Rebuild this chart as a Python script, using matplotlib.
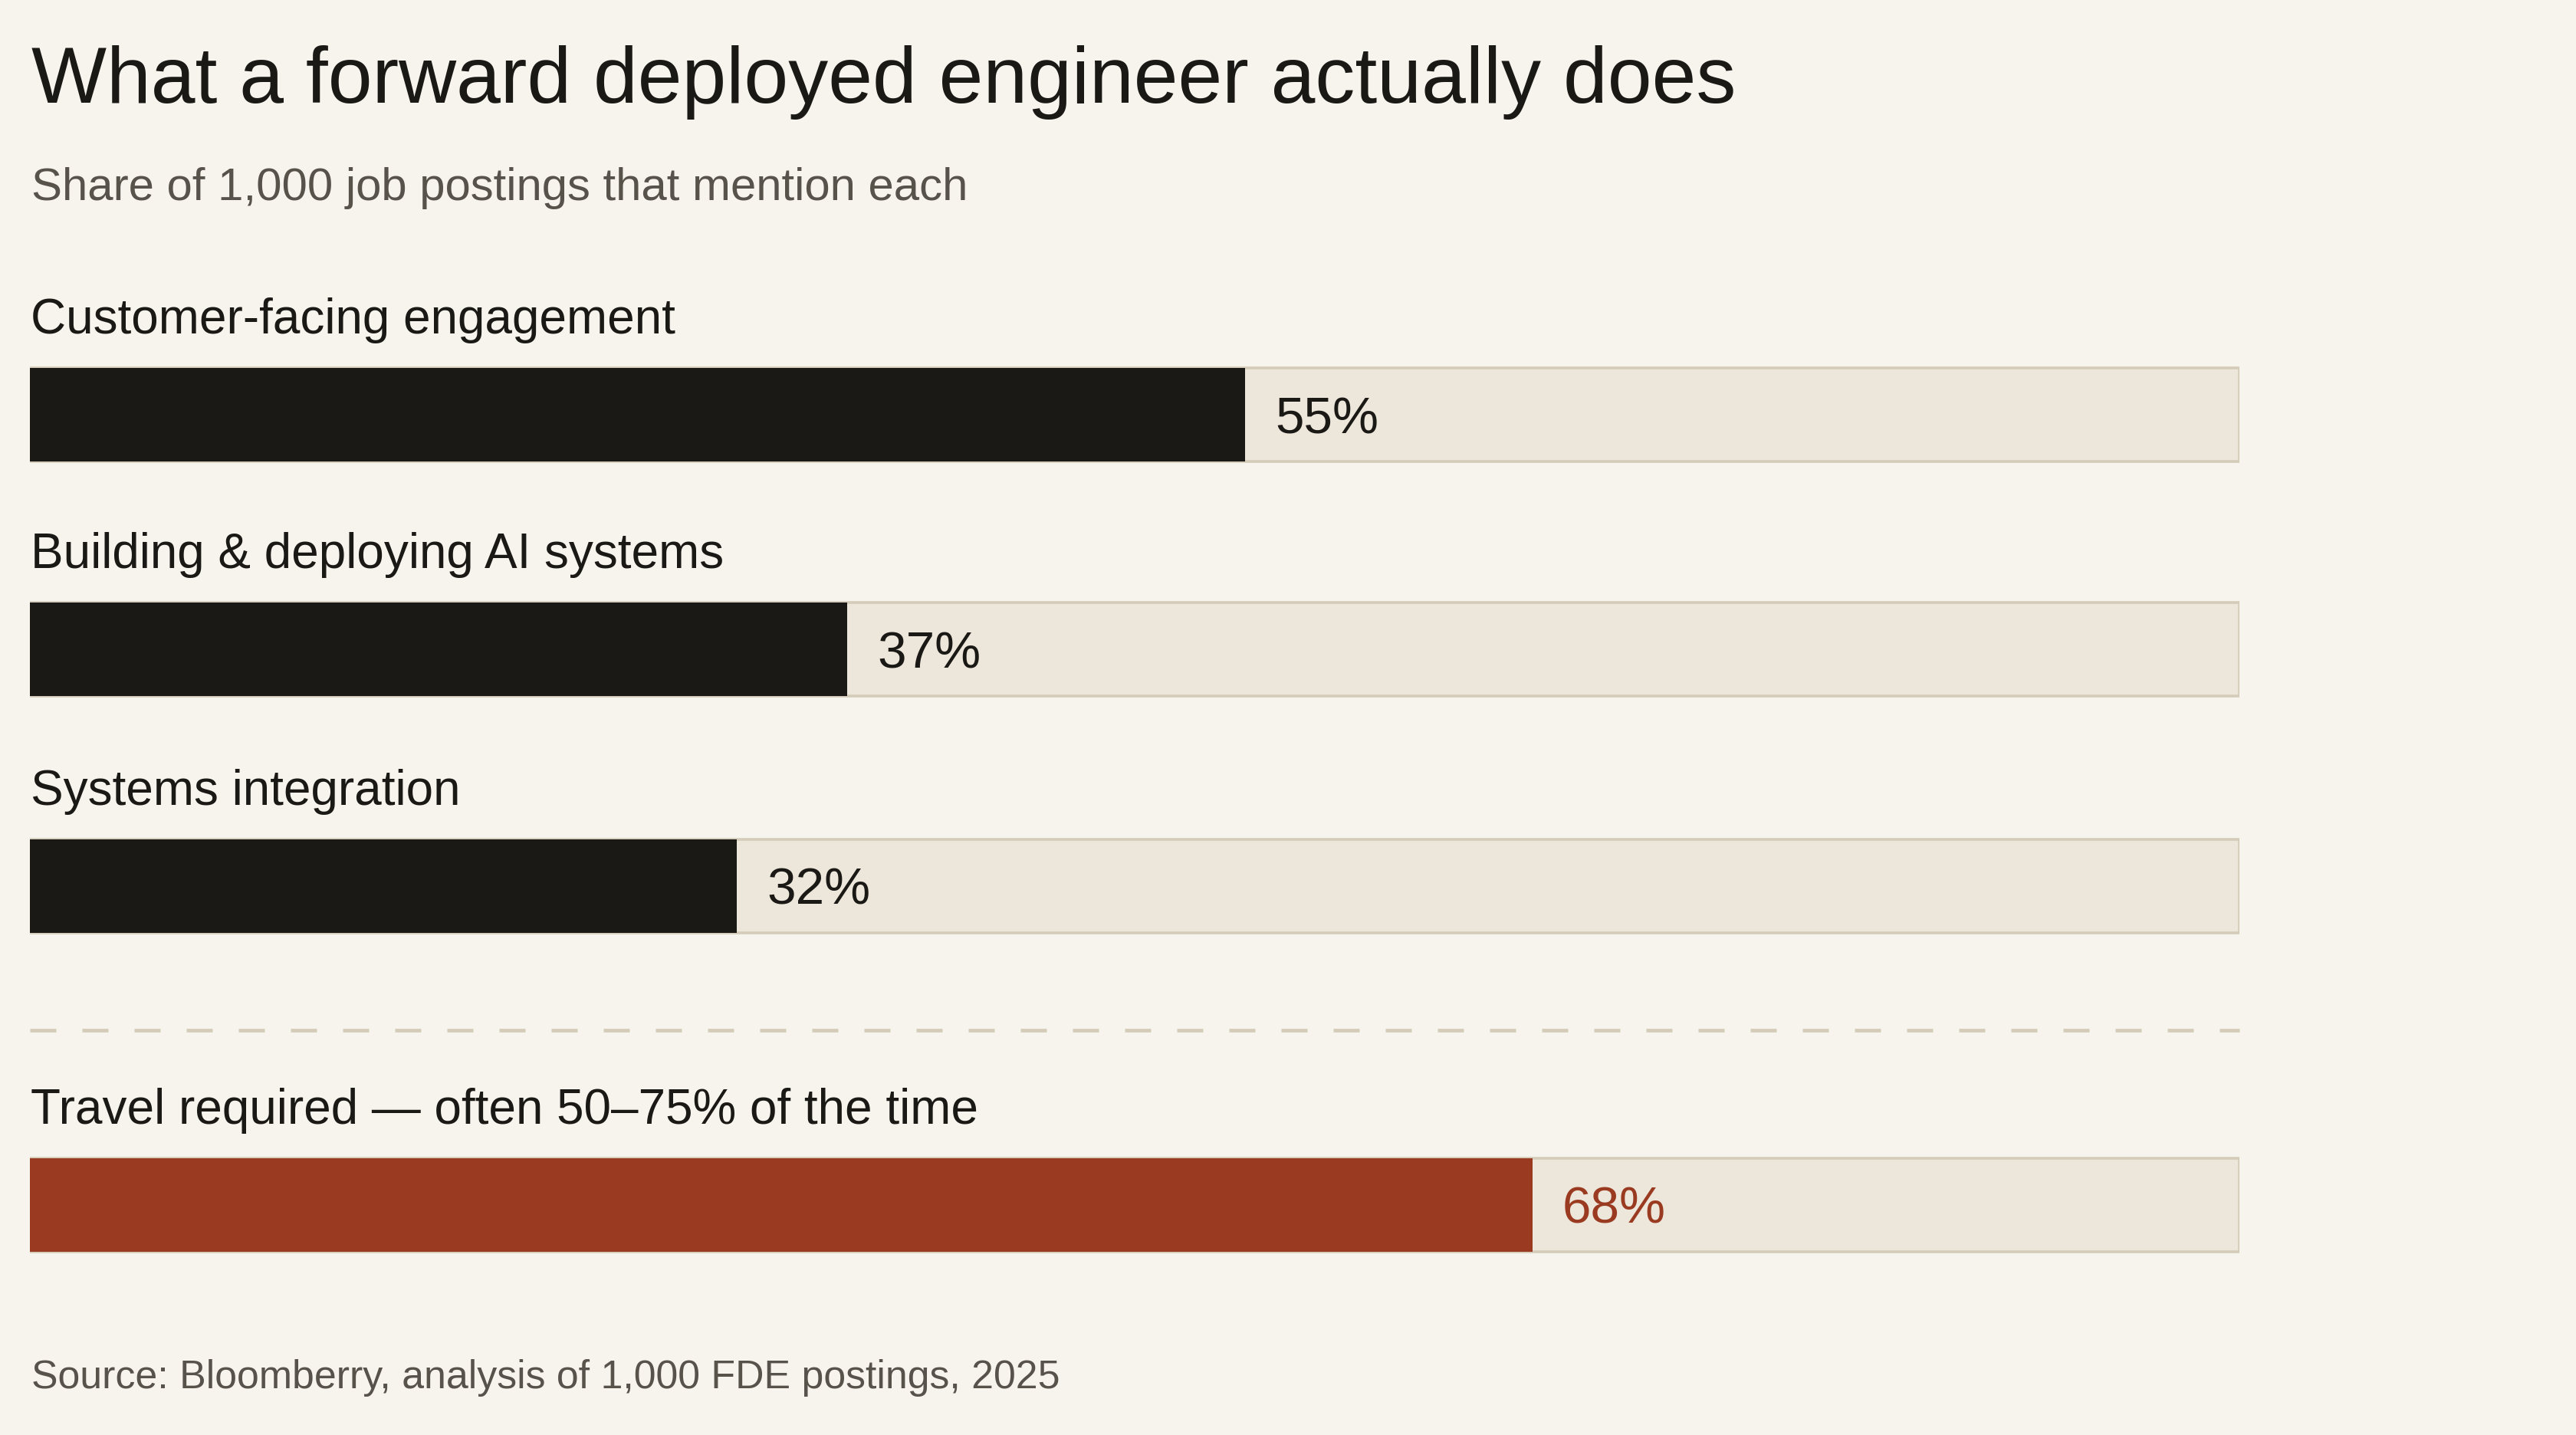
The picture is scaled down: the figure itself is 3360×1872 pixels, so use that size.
import matplotlib
matplotlib.use("Agg")
import matplotlib.pyplot as plt

plt.rcParams['font.family'] = ['Liberation Sans', 'DejaVu Sans']

# data
labels = ["Customer-facing engagement",
          "Building & deploying AI systems",
          "Systems integration",
          "Travel required \u2014 often 50\u201375% of the time"]
shares = [55, 37, 32, 68]
highlight = [False, False, False, True]

title = "What a forward deployed engineer actually does"
subtitle = "Share of 1,000 job postings that mention each"
source = "Source: Bloomberry, analysis of 1,000 FDE postings, 2025"

# colours
BG = "#f7f3ed"
INK = "#1b1915"
RED = "#9a3a20"
TRACK = "#ede6da"
TRACK_EDGE = "#d4ccb9"
GREY = "#57534b"

W, H = 3360, 1872
DPI = 200
fig = plt.figure(figsize=(W / DPI, H / DPI), dpi=DPI, facecolor=BG)


def fx(px):
    return px / W


def fy(py):
    return 1 - py / H


# bar area, y in pixel rows from the top
left, right = 39, 2921
ax = fig.add_axes([fx(left), 0, fx(right - left), 1])
ax.set_facecolor("none")
ax.set_xlim(0, 100)
ax.set_ylim(H, 0)
ax.axis("off")

rows = [541, 847, 1156, 1572]
bar_h = 122

ax.barh(rows, [100] * len(rows), height=bar_h, color=TRACK,
        edgecolor=TRACK_EDGE, linewidth=1.3, zorder=1)
cols = [RED if h else INK for h in highlight]
ax.barh(rows, shares, height=bar_h, color=cols, linewidth=0, zorder=2)

for y, v, lab, c in zip(rows, shares, labels, cols):
    ax.annotate(f"{v}%", xy=(v, y), xytext=(14, 0), textcoords="offset points",
                ha="left", va="center_baseline", fontsize=24.3, color=c, zorder=3)
    ax.text(0.05, y - bar_h / 2 - 45, lab, ha="left", va="baseline",
            fontsize=23, color=INK)

# dashed separator
ax.plot([0, 100], [1344, 1344], color=TRACK_EDGE, linewidth=1.7,
        dashes=(7.2, 7.2), solid_capstyle="butt", clip_on=False)

fig.text(fx(41), fy(134), title, ha="left", va="baseline",
         fontsize=37.4, color=INK)
fig.text(fx(41), fy(261), subtitle, ha="left", va="baseline",
         fontsize=21.6, color=GREY)
fig.text(fx(41), fy(1811), source, ha="left", va="baseline",
         fontsize=18.7, color=GREY)

fig.savefig("out.png", dpi=DPI, facecolor=BG)
